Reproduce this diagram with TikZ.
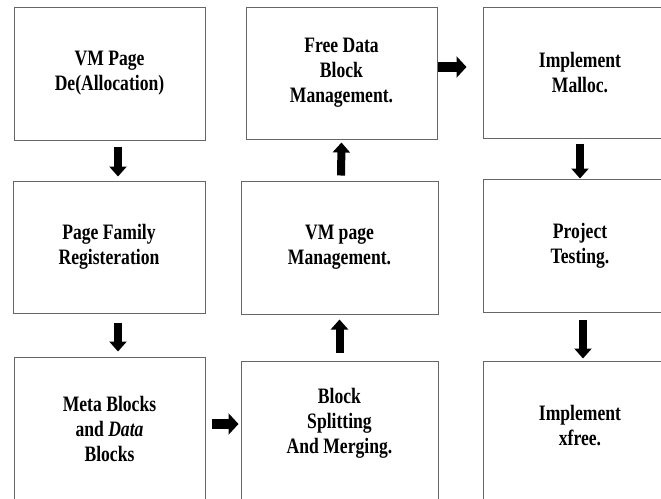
\documentclass[tikz,border=0pt]{standalone}
\usepackage{fontspec}
\setmainfont{Liberation Serif}[FakeStretch=0.8]
\usetikzlibrary{arrows.meta}

\tikzset{
  labelfont/.style={font=\fontsize{22}{25}\selectfont\bfseries},
  box/.style={draw=black!60, line width=1pt, inner sep=0pt, align=center, labelfont},
  boxtext/.style={inner sep=0pt, align=center, labelfont},
  vbar/.style={line width=8pt, -{Triangle[width=17pt,length=10pt]}},
  hbar/.style={line width=10pt, -{Triangle[width=21pt,length=10pt]}},
}

\begin{document}
\begin{tikzpicture}[x=1pt, y=-1pt]
  \fill[white] (0,0) rectangle (661,498);
  \clip (0,0) rectangle (661,498);

  % first column
  \node[box, minimum width=191pt, minimum height=133pt] (A) at (109.5,73.5) {VM Page\\De(Allocation)};
  \node[box, minimum width=192pt, minimum height=132pt] (B) at (109,247) {Page Family\\Registeration};
  \node[box, minimum width=191pt, minimum height=153pt] (C) at (109.5,433.5) {};
  \node[boxtext] (Ct) at (109.5,429) {Meta Blocks\\and \textit{Data}\\Blocks};

  % second column
  \node[box, minimum width=191pt, minimum height=132pt] (F) at (341.5,73) {Free Data\\Block\\Management.};
  \node[box, minimum width=197pt, minimum height=133pt] (E) at (339.5,247.5) {VM page\\Management.};
  \node[box, minimum width=197pt, minimum height=149pt] (D) at (339.5,435.5) {};
  \node[boxtext] (Dt) at (339.5,423) {Block\\Splitting\\And Merging.};

  % third column
  \node[box, minimum width=194pt, minimum height=131pt] (G) at (580,72.5) {Implement\\Malloc.};
  \node[box, minimum width=194pt, minimum height=133pt] (H) at (580,245.5) {Project\\Testing.};
  \node[box, minimum width=194pt, minimum height=149pt] (I) at (580,435.5) {};
  \node[boxtext] (It) at (580,426) {Implement\\xfree.};

  % block arrows
  \draw[vbar, shorten <=6pt, shorten >=4pt] ([xshift=8.5pt]A.south) -- ([xshift=9pt]B.north);
  \draw[vbar, shorten <=9pt, shorten >=5pt] ([xshift=9pt]B.south) -- ([xshift=8.5pt]C.north);
  \draw[hbar, shorten <=6pt, shorten >=2pt] ([yshift=9.5pt]C.east) -- ([yshift=11.5pt]D.west);
  \draw[vbar, shorten <=8pt, shorten >=5pt] (D.north) -- (E.south);
  \draw[vbar, shorten <=5pt, shorten >=3pt] ([xshift=1.5pt]E.north) -- (F.south);
  \draw[hbar, shorten <=0pt, shorten >=16pt] ([yshift=6pt]F.east) -- ([yshift=5.5pt]G.west);
  \draw[vbar, shorten <=5pt, shorten >=0pt] (G.south) -- (H.north);
  \draw[vbar, shorten <=7pt, shorten >=2pt] ([xshift=3pt]H.south) -- ([xshift=3pt]I.north);
\end{tikzpicture}
\end{document}
